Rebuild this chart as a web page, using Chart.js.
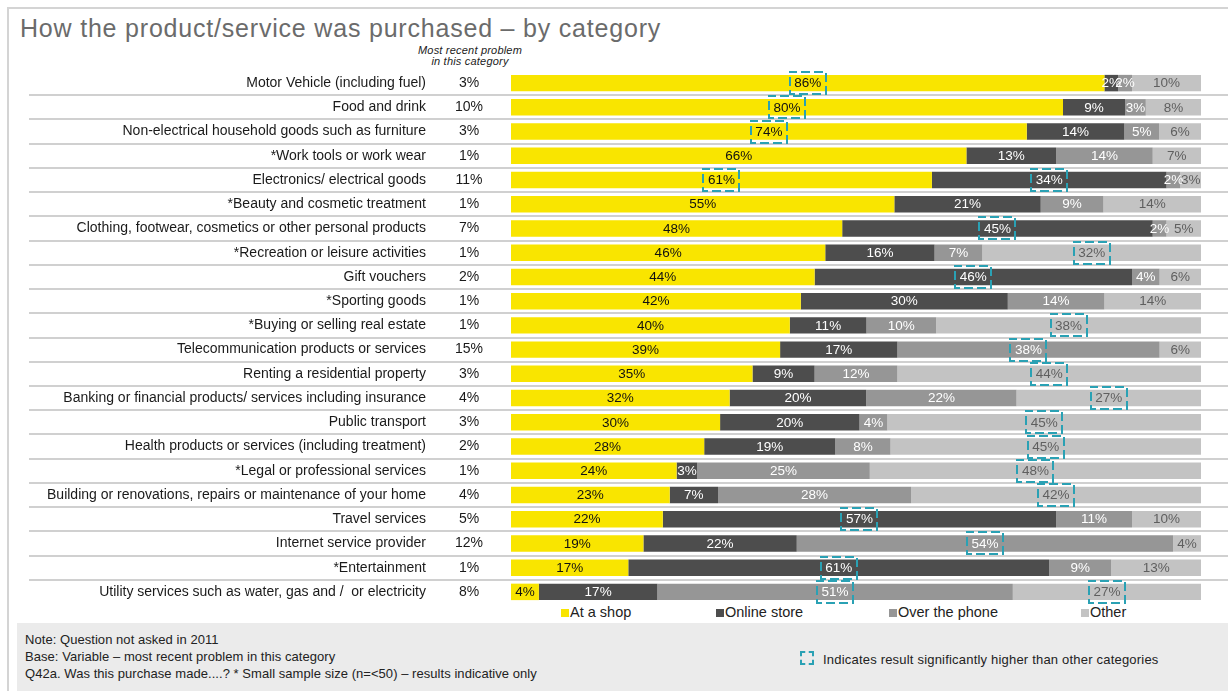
<!DOCTYPE html>
<html>
<head>
<meta charset="utf-8">
<script src="https://cdn.jsdelivr.net/npm/chart.js@4.4.1/dist/chart.umd.min.js"></script>
<style>
  body { margin: 0; width: 1228px; height: 691px; overflow: hidden; background: #fff; position: relative;
         font-family: "Liberation Sans", Arial, sans-serif; }
  #frame { position: absolute; left: 7px; top: 7px; width: 1240px; height: 700px;
           border-left: 2px solid #d4d4d4; border-top: 2px solid #d4d4d4; }
  #title { position: absolute; left: 20px; top: 14px; font-size: 25px; letter-spacing: 0.8px; color: #6b6b6b; white-space: nowrap; }
  #head { position: absolute; left: 400px; top: 45px; width: 140px; text-align: center;
          font-style: italic; font-size: 11px; line-height: 11px; letter-spacing: 0.2px; color: #222; }
  #notes { position: absolute; left: 17px; top: 623px; width: 1211px; height: 68px; background: #ebebeb; }
  #notes .txt { position: absolute; left: 8px; top: 8px; font-size: 13px; line-height: 17px; letter-spacing: 0.05px; color: #222; }
  #notes .sig { position: absolute; left: 783px; top: 28px; font-size: 13px; letter-spacing: 0.2px; color: #222; }
  #notes .sig i { display: inline-block; width: 10px; height: 10px; margin-right: 9px; vertical-align: -1px;
                  border: 2px dashed #2aa1b4; }
  #legend div { position: absolute; top: 604px; font-size: 14.5px; color: #222; white-space: nowrap; }
  #legend span { display: inline-block; width: 8px; height: 8px; margin-right: 1px; }
  #wrap { position: absolute; left: 0; top: 0; width: 1228px; height: 691px; }
</style>
</head>
<body>
<div id="frame"></div>
<div id="title">How the product/service was purchased – by category</div>
<div id="head">Most recent problem<br>in this category</div>
<div id="notes">
  <div class="txt">Note: Question not asked in 2011<br>Base: Variable – most recent problem in this category<br>Q42a. Was this purchase made....? * Small sample size (n=&lt;50) – results indicative only</div>
  <div class="sig"><i></i>Indicates result significantly higher than other categories</div>
</div>
<div id="legend"></div>
<div id="wrap"><canvas id="chart" width="1228" height="691"></canvas></div>

<script>
const categories = [
  'Motor Vehicle (including fuel)',
  'Food and drink',
  'Non-electrical household goods such as furniture',
  '*Work tools or work wear',
  'Electronics/ electrical goods',
  '*Beauty and cosmetic treatment',
  'Clothing, footwear, cosmetics or other personal products',
  '*Recreation or leisure activities',
  'Gift vouchers',
  '*Sporting goods',
  '*Buying or selling real estate',
  'Telecommunication products or services',
  'Renting a residential property',
  'Banking or financial products/ services including insurance',
  'Public transport',
  'Health products or services (including treatment)',
  '*Legal or professional services',
  'Building or renovations, repairs or maintenance of your home',
  'Travel services',
  'Internet service provider',
  '*Entertainment',
  'Utility services such as water, gas and /  or electricity'
];
const recentProblem = [3, 10, 3, 1, 11, 1, 7, 1, 2, 1, 1, 15, 3, 4, 3, 2, 1, 4, 5, 12, 1, 8];

const seriesNames = ['At a shop', 'Online store', 'Over the phone', 'Other'];
const atShop      = [86, 80, 74, 66, 61, 55, 48, 46, 44, 42, 40, 39, 35, 32, 30, 28, 24, 23, 22, 19, 17, 4];
const onlineStore = [2, 9, 14, 13, 34, 21, 45, 16, 46, 30, 11, 17, 9, 20, 20, 19, 3, 7, 57, 22, 61, 17];
const overPhone   = [2, 3, 5, 14, 2, 9, 2, 7, 4, 14, 10, 38, 12, 22, 4, 8, 25, 28, 11, 54, 9, 51];
const otherWay    = [10, 8, 6, 7, 3, 14, 5, 32, 6, 14, 38, 6, 44, 27, 45, 45, 48, 42, 10, 4, 13, 27];

// rows where a result is significantly higher than other categories
const sigShop   = [0, 1, 2, 4];
const sigOnline = [4, 6, 8, 18, 20];
const sigPhone  = [11, 19, 21];
const sigOther  = [7, 10, 12, 13, 14, 15, 16, 17, 21];

const colors     = ['#f9e500', '#4d4d4d', '#969696', '#c3c3c3'];
const textColors = ['#111111', '#ffffff', '#ffffff', '#5f5f5f'];
const FONT = '"Liberation Sans", Arial, sans-serif';

const raw = [atShop, onlineStore, overPhone, otherWay];
const sig = [sigShop, sigOnline, sigPhone, sigOther];
const totals = categories.map((c, i) => raw.reduce((s, arr) => s + arr[i], 0));

// legend
const legendX = [561, 716, 889, 1081];
const legend = document.getElementById('legend');
seriesNames.forEach((name, k) => {
  const d = document.createElement('div');
  d.style.left = legendX[k] + 'px';
  d.innerHTML = '<span style="background:' + colors[k] + '"></span>' + name;
  legend.appendChild(d);
});

const rowsPlugin = {
  id: 'rows',
  beforeDatasetsDraw(chart) {
    const ctx = chart.ctx, y = chart.scales.y;
    ctx.save();
    ctx.strokeStyle = '#d0d0d0';
    ctx.lineWidth = 2;
    for (let i = 0; i < categories.length - 1; i++) {
      const yy = Math.round((y.getPixelForValue(i) + y.getPixelForValue(i + 1)) / 2);
      ctx.beginPath();
      ctx.moveTo(29, yy);
      ctx.lineTo(1228, yy);
      ctx.stroke();
    }
    ctx.fillStyle = '#1a1a1a';
    ctx.font = '14px ' + FONT;
    ctx.textAlign = 'center';
    ctx.textBaseline = 'middle';
    recentProblem.forEach((v, i) => ctx.fillText(v + '%', 469, y.getPixelForValue(i)));
    ctx.restore();
  },
  afterDatasetsDraw(chart) {
    const ctx = chart.ctx;
    ctx.save();
    ctx.font = '13.5px ' + FONT;
    ctx.textAlign = 'center';
    ctx.textBaseline = 'middle';
    chart.data.datasets.forEach((ds, k) => {
      chart.getDatasetMeta(k).data.forEach((bar, i) => {
        const cx = (bar.x + bar.base) / 2;
        const txt = raw[k][i] + '%';
        ctx.fillStyle = textColors[k];
        ctx.fillText(txt, cx, bar.y + 0.5);
        if (sig[k].includes(i)) {
          const w = ctx.measureText(txt).width + 9;
          const h = 22;
          ctx.strokeStyle = '#2aa1b4';
          ctx.lineWidth = 2;
          ctx.setLineDash([9, 4]);
          ctx.lineDashOffset = 2;
          ctx.strokeRect(Math.round(cx - w / 2), Math.round(bar.y - h / 2), Math.round(w), h);
          ctx.setLineDash([]);
        }
      });
    });
    ctx.restore();
  }
};

new Chart(document.getElementById('chart'), {
  type: 'bar',
  data: {
    labels: categories,
    datasets: raw.map((arr, k) => ({
      label: seriesNames[k],
      data: arr.map((v, i) => v / totals[i] * 100),
      backgroundColor: colors[k],
      borderWidth: 0,
      barPercentage: 0.68,
      categoryPercentage: 1
    }))
  },
  options: {
    indexAxis: 'y',
    responsive: false,
    animation: false,
    devicePixelRatio: 1,
    layout: { padding: { left: 21, right: 27, top: 71, bottom: 87 } },
    plugins: { legend: { display: false }, tooltip: { enabled: false } },
    scales: {
      x: { stacked: true, display: false, min: 0, max: 100 },
      y: {
        stacked: true,
        grid: { display: false, drawTicks: false },
        border: { display: false },
        ticks: { color: '#1a1a1a', font: { size: 14, family: FONT }, padding: 85, autoSkip: false },
        afterFit(scale) {
          scale.width = 490;
          scale.paddingTop = 0;
          scale.paddingBottom = 0;
        }
      }
    }
  },
  plugins: [rowsPlugin]
});
</script>
</body>
</html>
